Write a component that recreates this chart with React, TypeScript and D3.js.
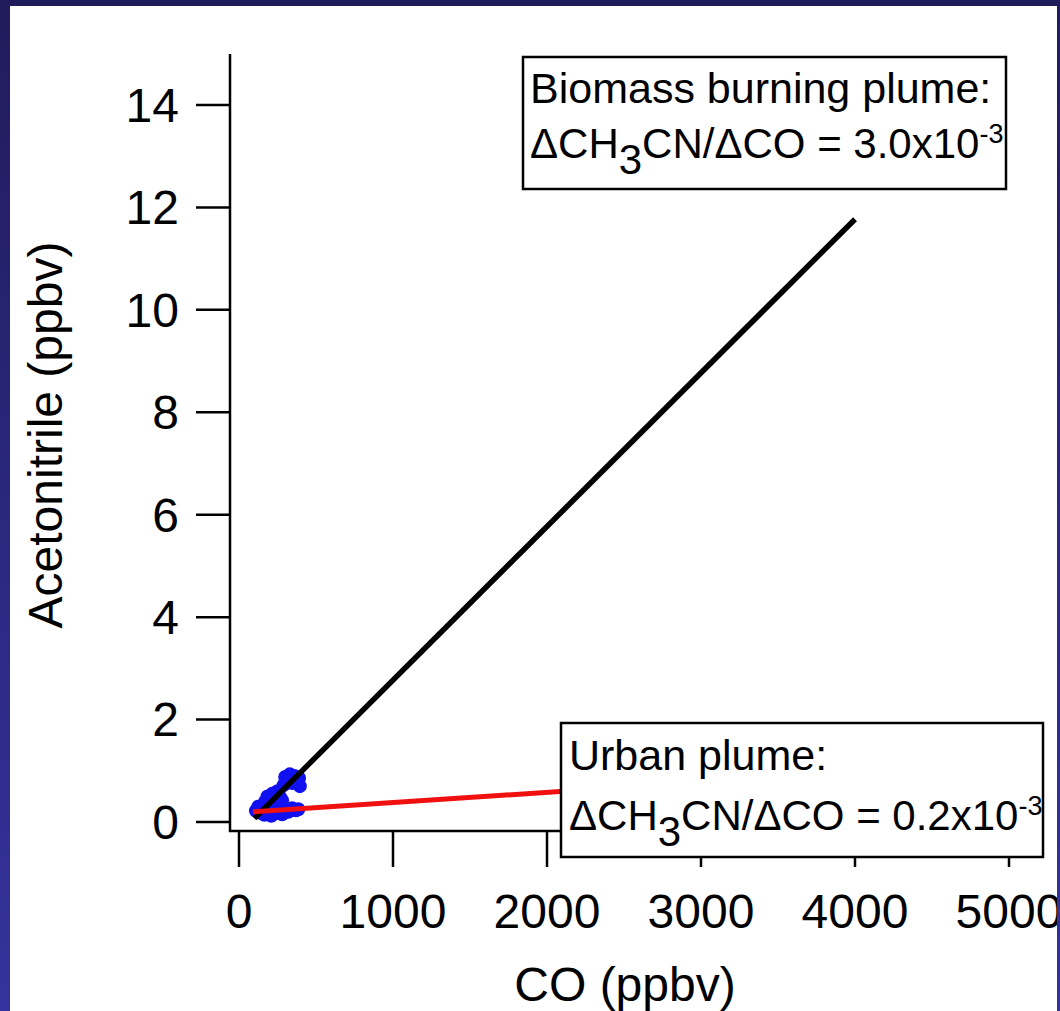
import React from "react";
import * as d3 from "d3";

// ---- data ----
const coValues = [
  110, 125, 140, 150, 165, 175, 190, 210, 220, 240, 260, 280, 300, 320, 345, 370, 385,
  170, 185, 200, 215, 230, 250, 265, 280,
  290, 300, 315, 330, 345, 360, 375, 390, 395,
];
const acnValues = [
  0.22, 0.3, 0.18, 0.25, 0.14, 0.32, 0.2, 0.12, 0.26, 0.17, 0.22, 0.15, 0.24, 0.2, 0.27, 0.23, 0.25,
  0.4, 0.5, 0.36, 0.55, 0.45, 0.6, 0.5, 0.42,
  0.72, 0.88, 0.8, 0.93, 0.76, 0.9, 0.82, 0.86, 0.7,
];
const biomassFit = { slope: 3.0e-3, intercept: -0.23, xStart: 100, xEnd: 4000 };
const urbanFit = { slope: 0.2e-3, intercept: 0.18, xStart: 90, xEnd: 4000 };
const xTicks = [0, 1000, 2000, 3000, 4000, 5000];
const yTicks = [0, 2, 4, 6, 8, 10, 12, 14];
const xTitle = "CO (ppbv)";
const yTitle = "Acetonitrile (ppbv)";

const W = 1060;
const H = 1011;
const FONT = "'Liberation Sans', Arial, Helvetica, sans-serif";

export default function App() {
  const x = d3.scaleLinear().domain([0, 5000]).range([239, 1009]);
  const y = d3.scaleLinear().domain([0, 14]).range([822, 105]);
  const line = d3
    .line<[number, number]>()
    .x((d) => x(d[0]))
    .y((d) => y(d[1]));
  const fitPts = (f: typeof biomassFit): [number, number][] => [
    [f.xStart, f.slope * f.xStart + f.intercept],
    [f.xEnd, f.slope * f.xEnd + f.intercept],
  ];
  const axisY = 831;
  const axisX = 230;

  const boxText = (
    bx: number,
    by: number,
    bw: number,
    bh: number,
    title: string,
    ratio: string,
    tx: number,
    b1: number,
    b2: number
  ) => (
    <g>
      <rect x={bx} y={by} width={bw} height={bh} fill="#fff" stroke="#000" strokeWidth={2.5} />
      <text x={tx} y={b1} fontSize={43} fontFamily={FONT} fill="#000">
        {title}
      </text>
      <text x={tx} y={b2} fontSize={42} fontFamily={FONT} fill="#000">
        <tspan>ΔCH</tspan>
        <tspan dy={16}>3</tspan>
        <tspan dy={-16}>{`CN/ΔCO = ${ratio}x10`}</tspan>
        <tspan dy={-15} fontSize={27}>-3</tspan>
      </text>
    </g>
  );

  return (
    <svg
      width={W}
      height={H}
      style={{ position: "absolute", left: 0, top: 0, display: "block" }}
    >
      <defs>
        <linearGradient id="bg" x1="0" y1="0" x2="0" y2="1">
          <stop offset="0" stopColor="#201c5b" />
          <stop offset="1" stopColor="#34339d" />
        </linearGradient>
        <clipPath id="panel">
          <rect x={10} y={6} width={1047} height={H - 6} />
        </clipPath>
      </defs>
      <rect x={0} y={0} width={W} height={H} fill="url(#bg)" />
      <rect x={10} y={6} width={1047} height={H - 6} fill="#fff" />
      <g clipPath="url(#panel)">
        {/* points */}
        {coValues.map((c, i) => (
          <circle key={i} cx={x(c)} cy={y(acnValues[i])} r={7} fill="#1010f0" />
        ))}
        {/* fits */}
        <path d={line(fitPts(biomassFit)) || ""} stroke="#000" strokeWidth={5.5} fill="none" />
        <path d={line(fitPts(urbanFit)) || ""} stroke="#f01010" strokeWidth={5} fill="none" />

        {/* axes */}
        <line x1={axisX} x2={axisX} y1={54} y2={axisY + 1} stroke="#000" strokeWidth={2.5} />
        <line x1={axisX - 1} x2={x(5000) + 1} y1={axisY} y2={axisY} stroke="#000" strokeWidth={2.5} />
        {yTicks.map((t) => (
          <g key={t}>
            <line x1={196} x2={axisX} y1={y(t)} y2={y(t)} stroke="#000" strokeWidth={2.5} />
            <text
              x={179}
              y={y(t)}
              dy="0.35em"
              textAnchor="end"
              fontSize={48}
              fontFamily={FONT}
              fill="#000"
            >
              {t}
            </text>
          </g>
        ))}
        {xTicks.map((t) => (
          <g key={t}>
            <line x1={x(t)} x2={x(t)} y1={axisY} y2={867} stroke="#000" strokeWidth={2.5} />
            <text
              x={x(t)}
              y={928}
              textAnchor="middle"
              fontSize={48}
              fontFamily={FONT}
              fill="#000"
            >
              {t}
            </text>
          </g>
        ))}
        <text x={625} y={1001} textAnchor="middle" fontSize={48} fontFamily={FONT} fill="#000">
          {xTitle}
        </text>
        <text
          transform="translate(62,435) rotate(-90)"
          textAnchor="middle"
          fontSize={48}
          fontFamily={FONT}
          fill="#000"
        >
          {yTitle}
        </text>

        {/* annotation boxes */}
        {boxText(523, 57, 483, 132, "Biomass burning plume:", "3.0", 530, 103, 158)}
        {boxText(561, 723, 482, 134, "Urban plume:", "0.2", 569, 770, 830)}
      </g>
    </svg>
  );
}
